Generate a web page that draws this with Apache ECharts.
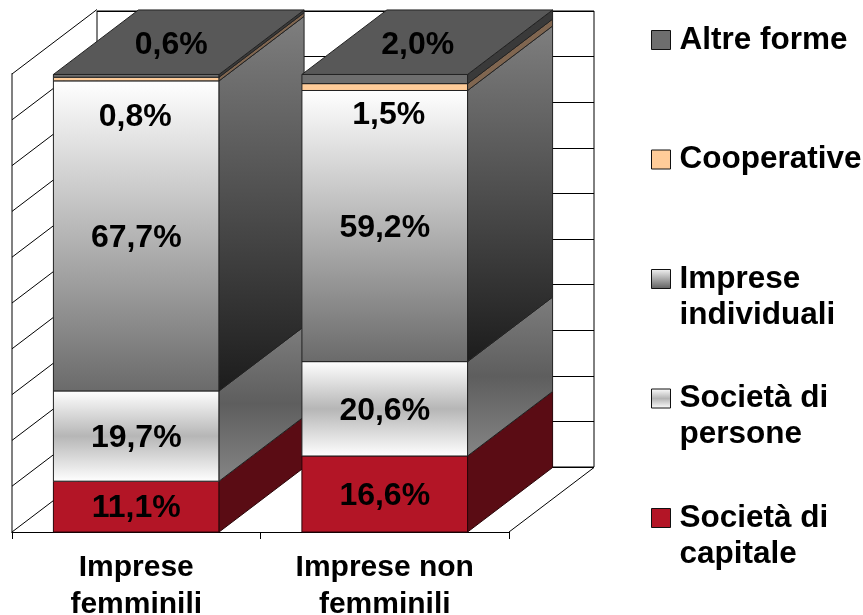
<!DOCTYPE html>
<html><head><meta charset="utf-8">
<style>html,body{margin:0;padding:0;background:#fff}#c{width:863px;height:615px}</style>
<script src="https://cdn.jsdelivr.net/npm/echarts@6/dist/echarts.min.js"></script>
</head><body><div id="c"></div>
<script>
const categories = ['Imprese\nfemminili', 'Imprese non\nfemminili'];
const seriesNames = ['Società di capitale', 'Società di persone', 'Imprese individuali', 'Cooperative', 'Altre forme'];
const capitale = [11.1, 16.6];
const persone = [19.7, 20.6];
const individuali = [67.7, 59.2];
const cooperative = [0.8, 1.5];
const altre = [0.6, 2.0];
const wallTicks = [0, 10, 20, 30, 40, 50, 60, 70, 80, 90, 100];
const legendOrder = ['Altre forme', 'Cooperative', 'Imprese individuali', 'Società di persone', 'Società di capitale'];
const legendText = {
  'Altre forme': '\nAltre forme\n',
  'Cooperative': '\nCooperative\n',
  'Imprese individuali': '\nImprese\nindividuali',
  'Società di persone': '\nSocietà di\npersone',
  'Società di capitale': '\nSocietà di\ncapitale'
};

const values = [capitale, persone, individuali, cooperative, altre];
const DEPTH = [85, -64.5];
const FONT = '"Liberation Sans", Arial, sans-serif';
const G = (stops) => new echarts.graphic.LinearGradient(0, 0, 0, 1,
  stops.map((c, i) => ({ offset: stops.length === 1 ? 0 : i / (stops.length - 1), color: c })));
const styles = [
  { front: '#B31526', side: '#5A0C14', stroke: '#2a0508', swatch: '#B31526' },
  { front: G(['#ffffff', '#b6b6b6', '#ffffff']), side: G(['#7d7d7d', '#5e5e5e', '#858585']), stroke: '#222', swatch: G(['#ffffff', '#b4b4b4', '#ffffff']) },
  { front: G(['#ffffff', '#6a6a6a']), side: G(['#7f7f7f', '#1c1c1c']), stroke: '#222', swatch: G(['#f4f4f4', '#5e5e5e']) },
  { front: '#FFCC99', side: '#806650', stroke: '#222', swatch: '#FFCC99' },
  { front: '#6E6E6E', side: '#3A3A3A', top: '#585858', stroke: '#222', swatch: '#6E6E6E' }
];
/* label nudges, in pixels, from the centre of each segment: [series][category] */
const labelShift = [
  [[0, 2], [0, 2]],
  [[0, 2], [0, 2]],
  [[0, 2], [0, 2]],
  [[-1, 38], [4, 28]],
  [[35, -31], [33, -34]]
];

function poly(pts, fill, stroke, z2) {
  return { type: 'polygon', z2: z2, shape: { points: pts }, style: { fill: fill, stroke: stroke, lineWidth: 1 } };
}
function barSeries(si) {
  return {
    type: 'custom', name: seriesNames[si], xAxisIndex: 0, yAxisIndex: 0, clip: false,
    itemStyle: { color: styles[si].swatch },
    data: values[si].map((v, i) => [i, v]),
    renderItem(params, api) {
      const c = api.value(0), v = api.value(1);
      let base = 0;
      for (let k = 0; k < si; k++) base += values[k][c];
      const bw = api.size([1, 0])[0] * 2 / 3;
      const cx = api.coord([c, 0])[0];
      const y0 = api.coord([c, base])[1], y1 = api.coord([c, base + v])[1];
      const xl = cx - bw / 2, xr = cx + bw / 2;
      const st = styles[si];
      const children = [
        poly([[xl, y0], [xr, y0], [xr, y1], [xl, y1]], st.front, st.stroke, 1),
        poly([[xr, y0], [xr + DEPTH[0], y0 + DEPTH[1]], [xr + DEPTH[0], y1 + DEPTH[1]], [xr, y1]], st.side, st.stroke, 1)
      ];
      if (st.top) {
        children.push(poly([[xl, y1], [xr, y1], [xr + DEPTH[0], y1 + DEPTH[1]], [xl + DEPTH[0], y1 + DEPTH[1]]], st.top, st.stroke, 1));
      }
      const s = labelShift[si][c];
      children.push({
        type: 'text', z2: 5,
        style: {
          x: cx + s[0], y: (y0 + y1) / 2 + s[1],
          text: v.toFixed(1).replace('.', ',') + '%',
          font: 'bold 32px ' + FONT, fill: '#000', align: 'center', verticalAlign: 'middle'
        }
      });
      return { type: 'group', children: children };
    }
  };
}
const wallSeries = {
  type: 'custom', xAxisIndex: 0, yAxisIndex: 0, clip: false, silent: true, z: 1,
  data: wallTicks.map(v => [0, v]),
  renderItem(params, api) {
    const v = api.value(1);
    const g = params.coordSys;
    const y = api.coord([0, v])[1];
    const children = [{
      type: 'line',
      shape: { x1: g.x, y1: y, x2: g.x + DEPTH[0], y2: y + DEPTH[1] },
      style: { stroke: '#000', lineWidth: 1 }
    }];
    if (v === 0) {
      children.push({
        type: 'line',
        shape: { x1: g.x + g.width, y1: y, x2: g.x + g.width + DEPTH[0], y2: y + DEPTH[1] },
        style: { stroke: '#000', lineWidth: 1 }
      });
    }
    return { type: 'group', children: children };
  }
};

const chart = echarts.init(document.getElementById('c'), null, { renderer: 'canvas' });
chart.setOption({
  animation: false,
  backgroundColor: '#fff',
  grid: [
    { left: 12, top: 74, width: 497, height: 458, outerBoundsMode: 'none' },
    { left: 97, top: 11, width: 497, height: 456, show: true, borderColor: '#000', borderWidth: 1, z: 0, outerBoundsMode: 'none' }
  ],
  xAxis: [
    { type: 'category', gridIndex: 0, data: categories,
      axisLine: { show: true, lineStyle: { color: '#000', width: 1 } },
      axisTick: { show: true, length: 7, alignWithLabel: false, lineStyle: { color: '#000' } },
      axisLabel: { interval: 0, margin: 17, color: '#000', fontFamily: FONT, fontWeight: 'bold', fontSize: 30, lineHeight: 37 } },
    { type: 'value', gridIndex: 1, min: 0, max: 1, show: false }
  ],
  yAxis: [
    { type: 'value', gridIndex: 0, min: 0, max: 100, interval: 10,
      axisLine: { show: true, lineStyle: { color: '#808080', width: 2 } },
      axisTick: { show: false }, axisLabel: { show: false }, splitLine: { show: false } },
    { type: 'value', gridIndex: 1, min: 0, max: 100, interval: 10,
      axisLine: { show: false }, axisTick: { show: false }, axisLabel: { show: false },
      splitLine: { show: true, lineStyle: { color: '#000', width: 1 } } }
  ],
  legend: {
    orient: 'vertical', left: 651, top: -14, padding: 0, itemWidth: 19, itemHeight: 19, itemGap: 11.5,
    selectedMode: false,
    data: legendOrder.map(n => ({
      name: n, icon: 'rect',
      itemStyle: { color: styles[seriesNames.indexOf(n)].swatch, borderColor: '#111', borderWidth: 1 }
    })),
    formatter: n => legendText[n],
    textStyle: { color: '#000', fontFamily: FONT, fontWeight: 'bold', fontSize: 31.5, lineHeight: 36, padding: [0, 0, 0, 4] }
  },
  series: [wallSeries].concat(seriesNames.map((n, i) => barSeries(i)))
});
</script></body></html>
